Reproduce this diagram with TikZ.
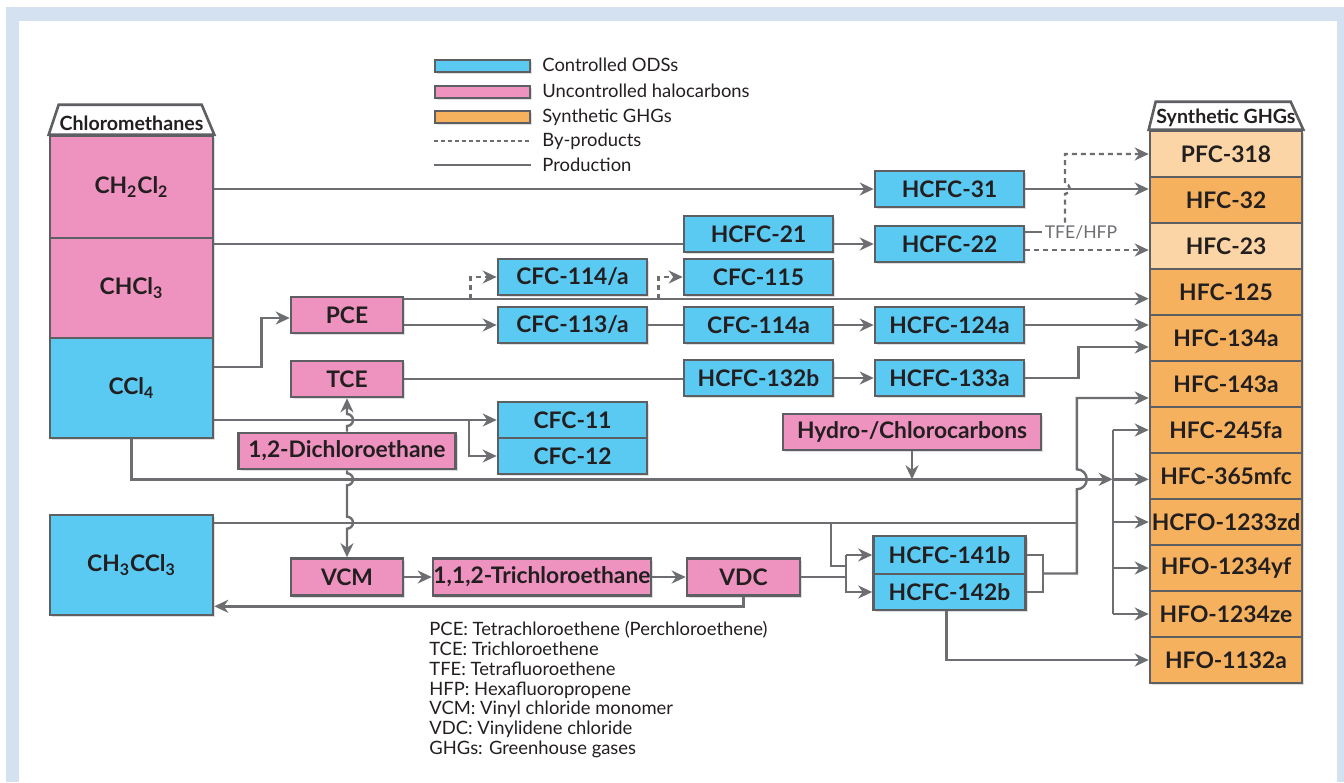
\documentclass[tikz,border=0pt]{standalone}
\usepackage{fontspec}
\setmainfont{Lato}
\usetikzlibrary{arrows.meta,calc,shadows}
\definecolor{fond}{HTML}{D3E1F0}
\definecolor{gris}{HTML}{6D6E71}
\definecolor{cadre}{HTML}{5E5F62}
\definecolor{texte}{HTML}{231F20}
\definecolor{bleu}{HTML}{5BCAF2}
\definecolor{rose}{HTML}{EE93C0}
\definecolor{orangeghg}{HTML}{F5B15E}
\definecolor{orangeclair}{HTML}{FBD5A6}
\begin{document}
\begin{tikzpicture}[x=0.5pt,y=-0.5pt]
% Styles
\tikzstyle{boite}=[draw=cadre,line width=1.3pt,text=texte,inner sep=0pt,font=\bfseries\fontsize{11.4}{13}\selectfont,drop shadow={opacity=0.25,shadow xshift=1pt,shadow yshift=-1pt}]
\tikzstyle{bleue}=[boite,fill=bleu]
\tikzstyle{rosee}=[boite,fill=rose]
\tikzstyle{moyen}=[minimum width=\Lcol,minimum height=\Hcol]
\tikzstyle{ghg}=[boite,minimum width=76pt,minimum height=23pt]
\tikzstyle{entete}=[draw=cadre,line width=1.3pt,fill=white]
\tikzstyle{titre}=[text=texte,inner sep=0pt,font=\bfseries\fontsize{9.8}{11}\selectfont]
\tikzstyle{ligne}=[gris,line width=1.2pt]
\tikzstyle{fleche}=[ligne,-{Stealth[length=7pt,width=6.5pt]}]
\tikzstyle{sousproduit}=[fleche,dash pattern=on 2.5pt off 2pt]
\tikzstyle{legtexte}=[text=texte,inner sep=0pt,font=\fontsize{9.2}{9.9}\selectfont]
% Dimensions
\def\Lcol{74.5pt}
\def\Hcol{18pt}
\def\Lgauche{81.5pt}
\def\Hgauche{50pt}
\def\colA{572.5}
\def\colB{758.5}
\def\colC{949.5}
\def\colG{1226}
% Fond
\useasboundingbox (0,0) rectangle (1344,782);
\fill[fond] (6,7) rectangle (1344,782);
\fill[white] (19,21) rectangle (1337,782);
% Légende
\node[bleue,minimum width=47.5pt,minimum height=6pt] (legbleu) at (482.5,66) {};
\node[rosee,minimum width=47.5pt,minimum height=6pt] (legrose) at (482.5,92) {};
\node[boite,fill=orangeghg,minimum width=47.5pt,minimum height=6pt] (legorange) at (482.5,117) {};
\node[legtexte,anchor=west] (txtbleu) at (542,65) {Controlled ODSs};
\node[legtexte,anchor=west] (txtrose) at (542,91) {Uncontrolled halocarbons};
\node[legtexte,anchor=west] (txtorange) at (542,117) {Synthetic GHGs};
\node[legtexte,anchor=west] (txtsous) at (542,141) {By-products};
\node[legtexte,anchor=west] (txtprod) at (542,165) {Production};
\draw[ligne,dash pattern=on 2pt off 1.5pt] (legbleu.west |- txtsous) -- (legbleu.east |- txtsous);
\draw[ligne] (legbleu.west |- txtprod) -- (legbleu.east |- txtprod);
% Chlorométhanes
\node[rosee,minimum width=\Lgauche,minimum height=51pt] (ch2cl2) at (131.5,187) {CH\textsubscript{2}Cl\textsubscript{2}};
\node[rosee,minimum width=\Lgauche,minimum height=\Hgauche] (chcl3) at (131.5,288) {CHCl\textsubscript{3}};
\node[bleue,minimum width=\Lgauche,minimum height=\Hgauche] (ccl4) at (131.5,388) {CCl\textsubscript{4}};
\node[bleue,minimum width=\Lgauche,minimum height=\Hgauche] (ch3ccl3) at (131.5,565) {CH\textsubscript{3}CCl\textsubscript{3}};
\draw[entete] (ch2cl2.north west) -- ++(10,-30) -- ++(143,0) -- (ch2cl2.north east) -- cycle;
\node[titre] (chloro) at (131.5,123) {Chloromethanes};
% GES synthétiques
\foreach \nom/\lab/\coul [count=\i from 0] in {pfc318/PFC-318/orangeclair,hfc32/HFC-32/orangeghg,hfc23/HFC-23/orangeclair,hfc125/HFC-125/orangeghg,hfc134a/HFC-134a/orangeghg,hfc143a/HFC-143a/orangeghg,hfc245fa/HFC-245fa/orangeghg,hfc365mfc/HFC-365mfc/orangeghg,hcfo1233zd/HCFO-1233zd/orangeghg,hfo1234yf/HFO-1234yf/orangeghg,hfo1234ze/HFO-1234ze/orangeghg,hfo1132a/HFO-1132a/orangeghg}
  \node[ghg,fill=\coul] (\nom) at (\colG,154+46*\i) {\lab};
\draw[entete] (pfc318.north west) -- ++(7,-28) -- ++(135,0) -- (pfc318.north east) -- cycle;
\node[titre] (synth) at (\colG,118) {Synthetic GHGs};
% Produits intermédiaires
\node[bleue,moyen] (hcfc31) at (\colC,189) {HCFC-31};
\node[bleue,moyen] (hcfc22) at (\colC,244) {HCFC-22};
\node[bleue,moyen] (hcfc124a) at (\colC,325) {HCFC-124a};
\node[bleue,moyen] (hcfc133a) at (\colC,378) {HCFC-133a};
\node[bleue,minimum width=76pt,minimum height=19pt] (hcfc141b) at (\colC,555) {HCFC-141b};
\node[bleue,minimum width=76pt,minimum height=\Hcol] (hcfc142b) at (\colC,592) {HCFC-142b};
\node[bleue,moyen] (hcfc21) at (\colB,234) {HCFC-21};
\node[bleue,moyen] (cfc115) at (\colB,277) {CFC-115};
\node[bleue,moyen] (cfc114a) at (\colB,325) {CFC-114a};
\node[bleue,moyen] (hcfc132b) at (\colB,378) {HCFC-132b};
\node[bleue,moyen] (cfc114) at (\colA,277) {CFC-114/a};
\node[bleue,moyen] (cfc113) at (\colA,325) {CFC-113/a};
\node[bleue,moyen] (cfc11) at (\colA,420) {CFC-11};
\node[bleue,moyen] (cfc12) at (\colA,456) {CFC-12};
\node[rosee,minimum width=56pt,minimum height=\Hcol] (pce) at (347,315) {PCE};
\node[rosee,minimum width=56pt,minimum height=\Hcol] (tce) at (347,379) {TCE};
\node[rosee,minimum width=108.5pt,minimum height=\Hcol] (dce) at (347,451) {1,2-Dichloroethane};
\node[rosee,minimum width=129pt,minimum height=\Hcol] (hydro) at (912,432) {Hydro-/Chlorocarbons};
\node[rosee,minimum width=56pt,minimum height=18.5pt] (vcm) at (347,577) {VCM};
\node[rosee,minimum width=109pt,minimum height=18.5pt] (tca) at (542,577) {1,1,2-Trichloroethane};
\node[rosee,minimum width=56.5pt,minimum height=18.5pt] (vdc) at (743.5,577) {VDC};
\node[text=gris,inner sep=1pt,font=\fontsize{8.8}{10}\selectfont] (tfe) at (1081,232) {TFE/HFP};
% Abréviations
\node[legtexte,anchor=north west,align=left] (abrev) at (429,621) {PCE: Tetrachloroethene (Perchloroethene)\\TCE: Trichloroethene\\TFE: Tetrafluoroethene\\HFP: Hexafluoropropene\\VCM: Vinyl chloride monomer\\VDC: Vinylidene chloride\\GHGs: Greenhouse gases};
% Liaisons : CH2Cl2 et CHCl3
\draw[fleche] (ch2cl2.east |- hcfc31) -- (hcfc31.west);
\draw[fleche] (hcfc31.east) -- (hcfc31.east -| hfc32.west);
\draw[ligne] (chcl3.east |- hcfc22) -- (hcfc21.west |- hcfc22);
\draw[fleche] (hcfc21.east |- hcfc22) -- (hcfc22.west);
\coordinate (h22) at ($(hcfc22.east)+(0,6)$);
\draw[sousproduit] (h22) -- (h22 -| hfc23.west);
\draw[ligne] (tfe.west -| hcfc22.east) -- (tfe.west);
\coordinate (t0) at ($(tfe.north)+(-16,0)$);
\draw[sousproduit] (t0) -- ($(t0 |- hcfc31.east)+(0,5)$) arc[start angle=-90,end angle=90,radius=2.5pt] -- (t0 |- pfc318.west) -- (pfc318.west);
% Liaisons : PCE
\coordinate (pceh) at ($(pce.north east)+(0,3)$);
\draw[fleche] (pceh) -- (pceh -| hfc125.west);
\draw[sousproduit] ($(pceh)+(66,0)$) |- (cfc114.west);
\draw[sousproduit] ($(pceh)+(254,0)$) |- (cfc115.west);
\draw[fleche] (pce.east |- cfc113) -- (cfc113.west);
\draw[ligne] (cfc113.east) -- (cfc114a.west);
\draw[fleche] (cfc114a.east) -- (hcfc124a.west);
\draw[fleche] (hcfc124a.east) -- (hcfc124a.east -| hfc134a.west);
% Liaisons : CCl4
\draw[fleche] ($(ccl4.east)+(0,-21)$) -- ++(47,0) |- ($(pce.west)+(0,3)$);
\draw[fleche] (ccl4.east |- cfc11) -- (cfc11.west);
\draw[fleche] ([xshift=-14pt]cfc11.west) |- (cfc12.west);
\coordinate (hCCl4) at ($(ccl4.south)+(0,40)$);
\coordinate (bh) at ($(hfc245fa.west)+(-36,0)$);
\draw[fleche] (ccl4.south) |- (bh |- hCCl4);
\draw[ligne] (bh) -- (bh |- hfo1234ze.west);
\foreach \cible in {hfc245fa,hcfo1233zd,hfo1234yf,hfo1234ze}
  \draw[fleche] (bh |- \cible.west) -- (\cible.west);
\draw[fleche] (bh |- hCCl4) -- (hCCl4 -| hfc365mfc.west);
\draw[fleche] (hydro.south) -- (hydro.south |- hCCl4);
% Liaisons : TCE
\draw[ligne] (tce.east) -- (tce.east -| hcfc132b.west);
\draw[fleche] (hcfc132b.east) -- (hcfc133a.west);
\draw[fleche] (hcfc133a.east) -- ++(53,0) |- ($(hfc134a.west)+(0,9)$);
% Liaisons : 1,2-Dichloroéthane
\coordinate (hCH3) at ($(ch3ccl3.north east)+(0,9)$);
\draw[fleche] (dce.north) -- ($(dce.north |- cfc11.west)+(0,6)$) arc[start angle=-90,end angle=90,radius=3pt] -- (tce.south);
\draw[fleche] (dce.south) -- ($(dce.south |- hCCl4)+(0,-6)$) arc[start angle=90,end angle=-90,radius=3pt] -- ($(dce.south |- hCH3)+(0,-6)$) arc[start angle=90,end angle=-90,radius=3pt] -- (vcm.north);
\draw[fleche] (vcm.east) -- (tca.west);
\draw[fleche] (tca.east) -- (vdc.west);
\draw[fleche] (vdc.south) |- ($(ch3ccl3.south east)+(0,-10)$);
% Liaisons : HCFC-141b et HCFC-142b
\coordinate (fk) at ($(hcfc141b.west)+(-26,0)$);
\draw[ligne] (vdc.east) -- (vdc.east -| fk);
\draw[fleche] (fk) -- (hcfc141b.west);
\draw[fleche] (fk) |- (hcfc142b.west);
\coordinate (brk) at ($(hcfc141b.east)!0.5!(hcfc142b.east)+(16,0)$);
\coordinate (j143) at ($(brk)+(34,0)$);
\coordinate (a143) at ($(hfc143a.west)+(0,14)$);
\draw[ligne] (hcfc141b.east) -| (brk) |- (hcfc142b.east);
\draw[fleche] (brk) -- (j143) -- ($(j143 |- hCCl4)+(0,10)$) arc[start angle=-90,end angle=90,radius=5pt] -- (j143 |- a143) -- (a143);
\draw[ligne] (hCH3) -- (hCH3 -| j143);
\draw[ligne] ($(hCH3 -| fk)+(-15,0)$) |- ($(fk)+(0,11)$);
\draw[fleche] ($(hcfc142b.south)+(-3,0)$) |- (hfo1132a.west);
\end{tikzpicture}
\end{document}
